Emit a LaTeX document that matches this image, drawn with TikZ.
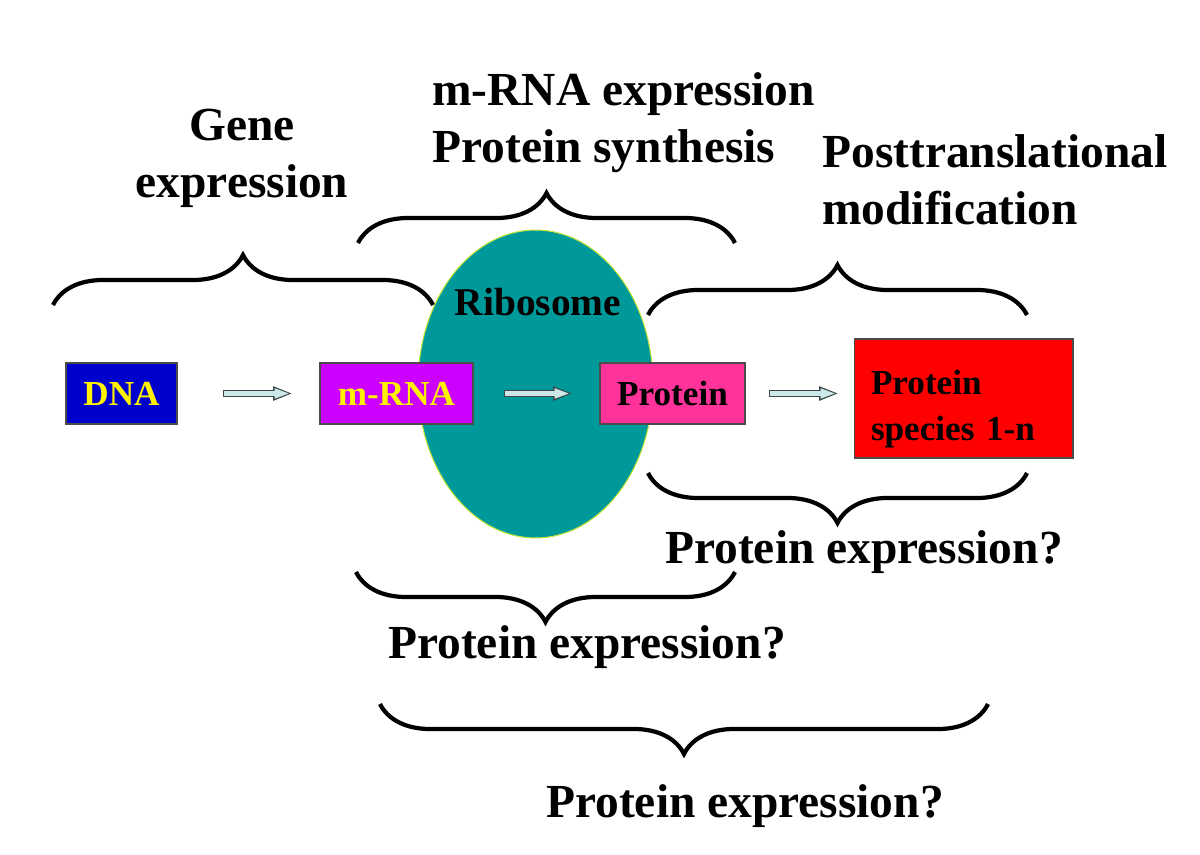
\documentclass[tikz,border=0pt]{standalone}
\usepackage{fontspec}
\setmainfont{Liberation Serif}
\usetikzlibrary{shapes.geometric}
\usetikzlibrary{decorations.pathreplacing}
\usetikzlibrary{arrows.meta}

\definecolor{dnablue}{RGB}{0,0,204}
\definecolor{rnaviolet}{RGB}{204,0,255}
\definecolor{protpink}{RGB}{255,51,153}
\definecolor{specred}{RGB}{255,0,0}
\definecolor{riboteal}{RGB}{0,153,153}
\definecolor{riborim}{RGB}{200,230,60}
\definecolor{arrowfill}{RGB}{204,232,232}
\definecolor{arrowrim}{RGB}{60,72,72}

\tikzset{
	molbox/.style={draw=black!70, line width=0.6pt, minimum height=1.22cm, inner sep=0pt, font=\fontsize{20}{26}\selectfont\bfseries},
	biglabel/.style={inner sep=0pt, font=\fontsize{27}{32.3}\selectfont\bfseries},
	curly/.style={decorate, decoration={brace, amplitude=1cm}, line width=2.4pt},
}

% hollow block arrow between two nodes
\newcommand{\flowarrow}[4]{%
	\draw[line width=4pt, arrowrim, -{Triangle[length=10.5pt,width=8.4pt,line width=0pt]}, shorten <=#3, shorten >=#4] (#1) -- (#2);
	\draw[line width=2.8pt, arrowfill, -{Triangle[length=8pt,width=6pt,line width=0pt]}, shorten <=#3+0.6pt, shorten >=#4+1.6pt] (#1) -- (#2);
}

\begin{document}
\begin{tikzpicture}[x=0.02cm, y=-0.02cm]
	\useasboundingbox (0,0) rectangle (1200,855);
	\node[ellipse, fill=riboteal, draw=riborim, line width=0.6pt, minimum width=4.7cm, minimum height=6.16cm, inner sep=0pt] (ribo) at (535.5,384) {};
	\node[inner sep=0pt, font=\fontsize{22.4}{26}\selectfont\bfseries] (ribolbl) at (538,302) {Ribosome};

	\node[molbox, fill=dnablue, text=yellow, minimum width=2.22cm] (dna) at (121.5,393.5) {DNA};
	\node[molbox, fill=rnaviolet, text=yellow, minimum width=3.06cm] (mrna) at (396.5,393.5) {m-RNA};
	\node[molbox, fill=protpink, minimum width=2.9cm] (prot) at (672.5,393.5) {Protein};
	\node[molbox, fill=specred, minimum height=2.38cm, text width=3.7cm, text height=26pt, inner xsep=0.34cm, align=left] (species) at (963.5,398.5) {Protein\\species 1-n};

	\flowarrow{dna}{mrna}{0.9cm}{0.56cm}
	\flowarrow{mrna}{prot}{0.6cm}{0.56cm}
	\flowarrow{prot}{prot.east -| species.west}{0.46cm}{0.32cm}

	% braces
	\coordinate (genel) at (53,305); \coordinate (gener) at (433,305);
	\coordinate (synl) at (358,243); \coordinate (synr) at (735,243);
	\coordinate (ptml) at (648,315); \coordinate (ptmr) at (1027,315);
	\coordinate (exal) at (648,473); \coordinate (exar) at (1027,473);
	\coordinate (exbl) at (356,572); \coordinate (exbr) at (735,572);
	\coordinate (excl) at (380,704); \coordinate (excr) at (988,704);
	\draw[curly] (genel) -- (gener);
	\draw[curly] (synl) -- (synr);
	\draw[curly] (ptml) -- (ptmr);
	\draw[curly] (exar) -- (exal);
	\draw[curly] (exbr) -- (exbl);
	\draw[curly] (excr) -- (excl);

	\node[biglabel, align=center] (genelbl) at (242,158) {Gene\\expression};
	\node[biglabel, align=left, anchor=west] (synlbl) at (432,123) {m-RNA expression\\Protein synthesis};
	\node[biglabel, align=left, anchor=west] (ptmlbl) at (822,180) {Posttranslational\\modification};
	\node[biglabel, anchor=base] (exalbl) at (864,563) {Protein expression?};
	\node[biglabel, anchor=base] (exblbl) at (587,658) {Protein expression?};
	\node[biglabel, anchor=base] (exclbl) at (745,817) {Protein expression?};
\end{tikzpicture}
\end{document}
